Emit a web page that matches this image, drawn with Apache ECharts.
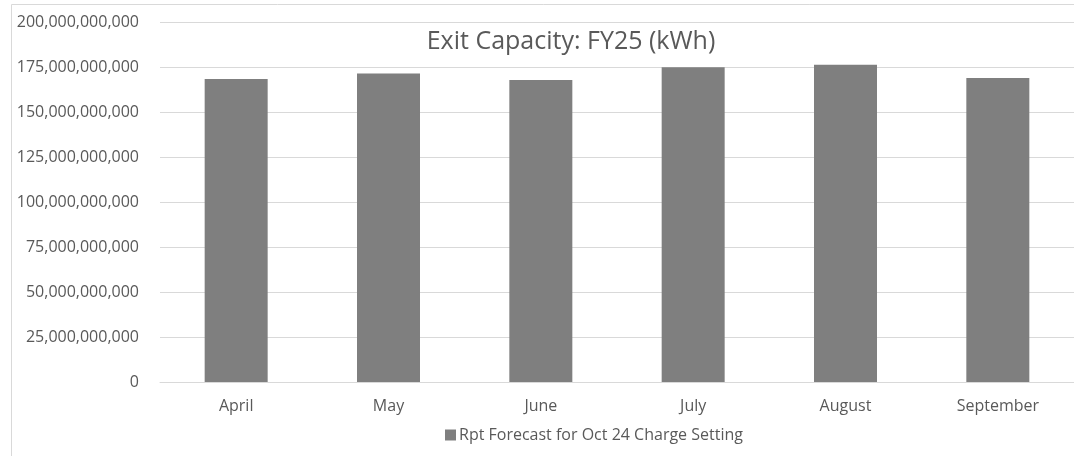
<!DOCTYPE html>
<html>
<head>
<meta charset="utf-8">
<script src="https://cdn.jsdelivr.net/npm/echarts@6/dist/echarts.min.js"></script>
<style>
  html, body { margin: 0; padding: 0; background: #fff; }
  #chart { width: 1074px; height: 456px; }
</style>
</head>
<body>
<div id="chart"></div>
<script>
// data
var months = ['April', 'May', 'June', 'July', 'August', 'September'];
var forecast = [168300000000, 171400000000, 167800000000, 174800000000, 176300000000, 168900000000];
var seriesName = 'Rpt Forecast for Oct 24 Charge Setting';
var chartTitle = 'Exit Capacity: FY25 (kWh)';

var font = '"Open Sans", "Noto Sans", sans-serif';
var textColor = '#595959';

var myChart = echarts.init(document.getElementById('chart'));
var option = {
  animation: false,
  textStyle: { fontFamily: font },
  graphic: [{
    type: 'rect',
    shape: { x: 11.5, y: 4.5, width: 1200, height: 600 },
    style: { fill: 'none', stroke: '#d9d9d9', lineWidth: 1 },
    silent: true
  }],
  title: {
    text: chartTitle,
    left: 566,
    top: 24,
    textAlign: 'center',
    textStyle: { fontFamily: font, fontSize: 25, fontWeight: 'normal', color: textColor }
  },
  legend: {
    data: [seriesName],
    top: 422,
    left: 440,
    itemWidth: 11,
    itemHeight: 11,
    itemGap: 4,
    icon: 'rect',
    textStyle: { fontFamily: font, fontSize: 16, color: textColor, padding: [0, 0, 0, -2] }
  },
  grid: { left: 160, top: 22, width: 919, height: 360, containLabel: false },
  xAxis: {
    type: 'category',
    data: months,
    axisLine: { lineStyle: { color: '#d9d9d9' } },
    axisTick: { show: false },
    axisLabel: { color: textColor, fontFamily: font, fontSize: 16, margin: 16 }
  },
  yAxis: {
    type: 'value',
    min: 0,
    max: 200000000000,
    interval: 25000000000,
    axisLine: { show: false },
    axisTick: { show: false },
    splitLine: { lineStyle: { color: '#d9d9d9' } },
    axisLabel: {
      color: textColor, fontFamily: font, fontSize: 16, margin: 21,
      formatter: function (v) { return v.toLocaleString('en-US'); }
    }
  },
  series: [{
    name: seriesName,
    type: 'bar',
    data: forecast,
    barWidth: 63,
    itemStyle: { color: '#7f7f7f' }
  }]
};
myChart.setOption(option);
</script>
</body>
</html>
